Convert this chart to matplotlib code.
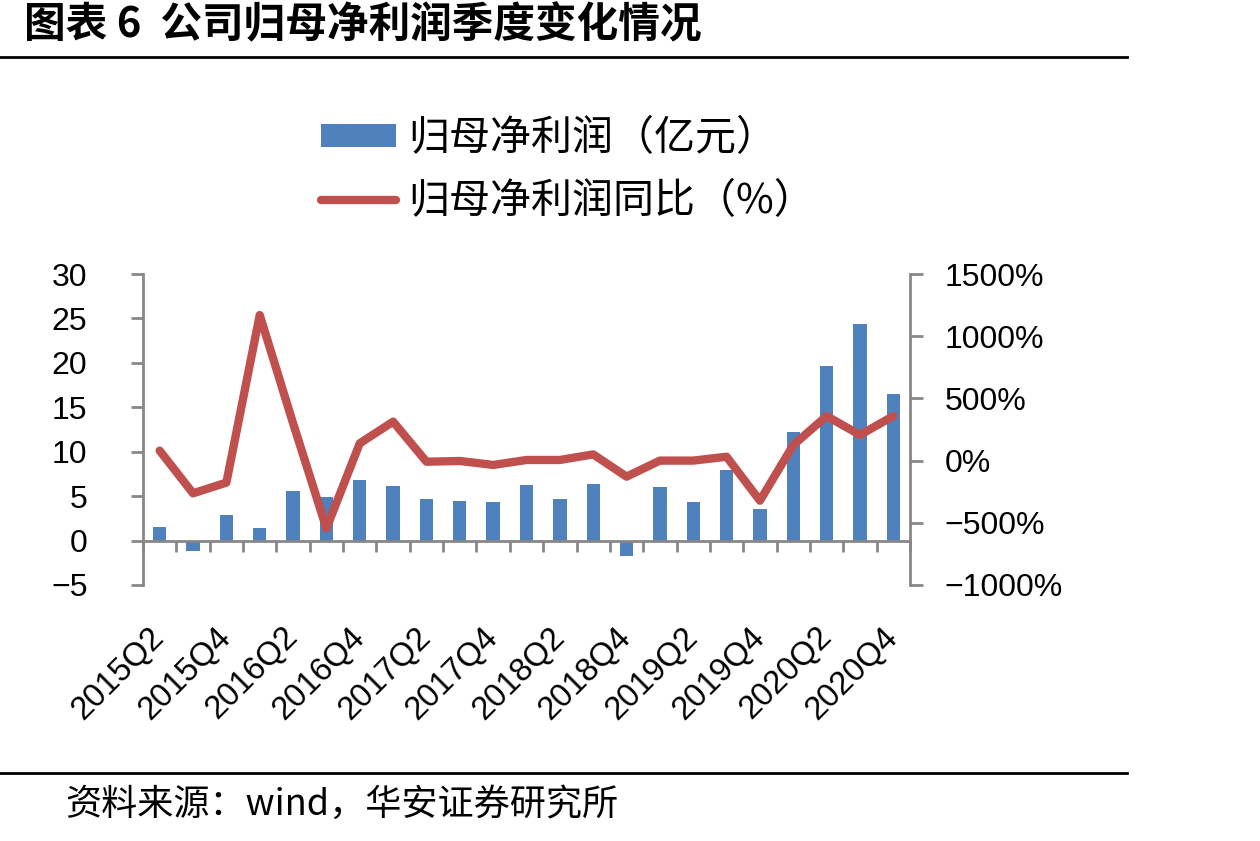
import numpy as np
import matplotlib
matplotlib.use("Agg")
import matplotlib.pyplot as plt
from matplotlib.lines import Line2D
from matplotlib.patches import Patch

quarters = ["2015Q2", "2015Q3", "2015Q4",
            "2016Q1", "2016Q2", "2016Q3", "2016Q4",
            "2017Q1", "2017Q2", "2017Q3", "2017Q4",
            "2018Q1", "2018Q2", "2018Q3", "2018Q4",
            "2019Q1", "2019Q2", "2019Q3", "2019Q4",
            "2020Q1", "2020Q2", "2020Q3", "2020Q4"]
profit = [1.5, -1.2, 2.9, 1.45, 5.6, 4.9, 6.8, 6.1, 4.7, 4.4, 4.35, 6.3,
          4.7, 6.4, -1.7, 6.0, 4.3, 7.9, 3.5, 12.2, 19.7, 24.4, 16.5]
yoy = [80, -263, -177, 1170, 300, -545, 139, 313, -9, -3, -35, 5,
       5, 50, -129, 0, 0, 31, -322, 125, 358, 206, 358]

left_ticks = [-5, 0, 5, 10, 15, 20, 25, 30]
right_ticks = [-1000, -500, 0, 500, 1000, 1500]

BLUE = "#4F81BD"
RED = "#C0504D"
GREY = "#878787"
CJK = ["Noto Sans CJK SC", "DejaVu Sans"]
NUM = ["Liberation Sans", "DejaVu Sans"]

fig = plt.figure(figsize=(12.6, 8.41), dpi=100)
ax = fig.add_axes([143/1260, 1-585/841, (910-143)/1260, (585-274)/841])
ax2 = ax.twinx()

x = np.arange(len(quarters))
bars = ax.bar(x, profit, width=0.4, color=BLUE, zorder=2)
line, = ax2.plot(x, yoy, color=RED, lw=6, solid_capstyle="round",
                 solid_joinstyle="round", zorder=3)

ax.set_xlim(-0.5, len(quarters) - 0.5)
ax.set_ylim(-5, 30)
ax2.set_ylim(-1000, 1500)
ax.set_yticks(left_ticks)
ax.set_yticklabels([str(v).replace("-", "\u2212") for v in left_ticks],
                   fontfamily=NUM, fontsize=23)
ax2.set_yticks(right_ticks)
ax2.set_yticklabels([(f"{v}%").replace("-", "\u2212") for v in right_ticks],
                    fontfamily=NUM, fontsize=23)

for a in (ax, ax2):
    a.spines["top"].set_visible(False)
    for s in a.spines.values():
        s.set_color(GREY)
        s.set_linewidth(2)
ax.spines["right"].set_visible(False)
ax2.spines["left"].set_visible(False)
ax2.spines["bottom"].set_visible(False)
ax.spines["bottom"].set_position(("data", 0))

ax.tick_params(axis="y", direction="out", length=9, width=2, color=GREY, pad=31)
ax2.tick_params(axis="y", direction="out", length=9, width=2, color=GREY, pad=16)

# x ticks: labels every other quarter, tick marks at category boundaries
ax.set_xticks(x[::2])
ax.set_xticklabels(quarters[::2], fontfamily=NUM, fontsize=23.5)
ax.set_xticks(np.arange(-0.5, len(quarters), 1), minor=True)
ax.tick_params(axis="x", which="major", length=0, pad=66)
ax.tick_params(axis="x", which="minor", direction="out", length=8, width=2, color=GREY)
for lab in ax.get_xticklabels():
    lab.set_rotation(45)
    lab.set_rotation_mode("anchor")
    lab.set_ha("right")
    lab.set_va("center")

# legend
handles = [Patch(facecolor=BLUE, edgecolor="none"),
           Line2D([0], [0], color=RED, lw=6, solid_capstyle="round")]
fig.legend(handles, ["归母净利润（亿元）", "归母净利润同比（%）"],
           loc="center", bbox_to_anchor=(568/1260, 1-170/841),
           frameon=False, prop={"family": CJK, "size": 29.5},
           handlelength=1.85, handleheight=0.5, labelspacing=0.52,
           handletextpad=0.3)

# title, rules and source
fig.text(24/1260, 1-25/841, "图表 6  公司归母净利润季度变化情况", family=CJK,
         fontsize=30, fontweight="bold", va="center", ha="left")
fig.add_artist(Line2D([0, 1127/1260], [1-57/841]*2, color="black", lw=2))
fig.add_artist(Line2D([0, 1127/1260], [1-773/841]*2, color="black", lw=2))
fig.text(65/1260, 1-805/841, "资料来源：wind，华安证券研究所", family=CJK,
         fontsize=26, va="center", ha="left")

fig.savefig("out.png", dpi=100)
